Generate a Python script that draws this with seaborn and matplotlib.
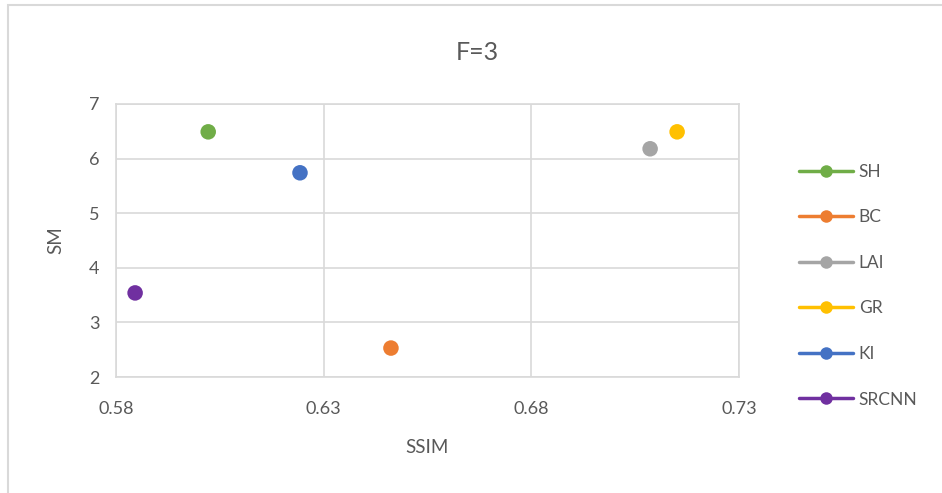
import matplotlib
matplotlib.use("Agg")
import matplotlib.pyplot as plt
from matplotlib.lines import Line2D
from matplotlib.patches import Rectangle
import seaborn as sns
import pandas as pd

methods = ["SH", "BC", "LAI", "GR", "KI", "SRCNN"]
ssim = [0.6022, 0.6462, 0.7086, 0.7151, 0.6243, 0.5846]
sm = [6.49, 2.53, 6.18, 6.49, 5.74, 3.54]
colors = ["#70AD47", "#ED7D31", "#A5A5A5", "#FFC000", "#4472C4", "#7030A0"]
x_ticks = [0.58, 0.63, 0.68, 0.73]
y_ticks = [2, 3, 4, 5, 6, 7]

df = pd.DataFrame({"method": methods, "SSIM": ssim, "SM": sm})

sns.set_theme(style="white")
plt.rcParams["font.family"] = ["Lato", "DejaVu Sans"]
text_color = "#595959"
grid_color = "#D9D9D9"

W, H = 942, 493
fig = plt.figure(figsize=(W / 100, H / 100), dpi=100)
ax = fig.add_axes([116 / W, 1 - 377 / H, (739 - 116) / W, (377 - 104) / H])

sns.scatterplot(data=df, x="SSIM", y="SM", hue="method", hue_order=methods,
                palette=colors, s=125, linewidth=0, legend=False, ax=ax, zorder=3)

ax.set_xlim(0.58, 0.73)
ax.set_ylim(2, 7)
ax.set_xticks(x_ticks)
ax.set_xticklabels([f"{v:.2f}" for v in x_ticks])
ax.set_yticks(y_ticks)
ax.grid(True, color=grid_color, linewidth=1.2)
for sp in ax.spines.values():
    sp.set_visible(True)
    sp.set_color(grid_color)
    sp.set_linewidth(1.2)
ax.tick_params(axis="both", length=0, labelsize=13, colors=text_color, pad=12)
ax.tick_params(axis="x", pad=17)
ax.set_xlabel("SSIM", fontsize=13.5, color=text_color, labelpad=16)
ax.set_ylabel("SM", fontsize=13.5, color=text_color, labelpad=18)

fig.text(477 / W, 1 - 52 / H, "F=3", ha="center", va="center",
         fontsize=18, color=text_color)

# chart frame
fig.patches.append(Rectangle((8 / W, -0.1), 1.2, 1 - 5 / H + 0.1,
                             transform=fig.transFigure, fill=False,
                             edgecolor=grid_color, linewidth=1.5))

handles = [Line2D([0], [0], color=c, linewidth=2.5, marker="o",
                  markersize=9, markeredgewidth=0) for c in colors]
fig.legend(handles, methods, loc="upper left",
           bbox_to_anchor=(792 / W, 1 - 157 / H), frameon=False,
           fontsize=12.5, labelcolor=text_color, handlelength=3.1,
           handletextpad=0.35, labelspacing=1.7, borderaxespad=0)

fig.savefig("out.png", dpi=100)
